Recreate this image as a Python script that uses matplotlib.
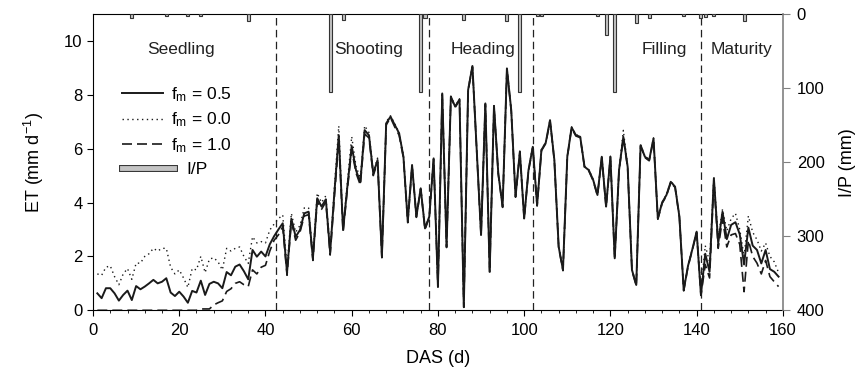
"""
ET under three f_m settings with irrigation/precipitation bars
"""

import matplotlib

matplotlib.use("Agg")
import matplotlib.pyplot as plt
import matplotlib.patheffects as pe
from matplotlib.lines import Line2D

plt.rcParams["font.family"] = ["Liberation Sans", "DejaVu Sans"]
plt.rcParams["mathtext.default"] = "regular"

# days after sowing
das = list(range(1, 160))

# ET (mm/d), f_m = 0.5
et_05 = [
    0.63, 0.45, 0.82, 0.82, 0.63, 0.36, 0.57, 0.73, 0.38, 0.90,
    0.78, 0.88, 1.00, 1.13, 1.00, 1.06, 1.19, 0.66, 0.53, 0.69,
    0.51, 0.28, 0.72, 0.66, 1.10, 0.57, 0.98, 1.06, 1.00, 0.82,
    1.42, 1.30, 1.62, 1.70, 1.45, 1.15, 2.24, 1.99, 2.18, 2.00,
    2.45, 2.75, 3.00, 3.23, 1.40, 3.40, 2.73, 2.98, 3.60, 3.66,
    1.93, 4.16, 3.85, 4.12, 2.15, 4.40, 6.50, 2.98, 4.60, 6.10,
    5.20, 4.75, 6.69, 6.50, 5.08, 5.58, 2.00, 6.94, 7.19, 6.88,
    6.57, 5.70, 3.29, 5.39, 3.48, 4.53, 3.04, 3.48, 5.64, 0.88,
    8.05, 2.36, 7.93, 7.56, 7.83, 0.12, 8.18, 9.07, 5.90, 2.80,
    7.68, 1.43, 7.58, 5.08, 3.85, 8.98, 7.43, 4.22, 5.89, 3.41,
    5.20, 6.07, 3.90, 5.95, 6.22, 7.06, 5.58, 2.36, 1.50, 5.70,
    6.79, 6.50, 6.44, 5.33, 5.20, 4.84, 4.28, 5.70, 3.85, 5.70,
    1.93, 5.20, 6.44, 5.33, 1.50, 0.94, 6.13, 5.70, 5.58, 6.38,
    3.41, 4.00, 4.28, 4.77, 4.59, 3.48, 0.75, 1.65, 2.26, 2.92,
    0.57, 2.10, 1.43, 4.90, 2.49, 3.66, 2.64, 3.17, 3.27, 2.82,
    1.70, 3.07, 2.40, 2.24, 1.74, 2.24, 1.53, 1.43, 1.25,
]

# ET (mm/d), f_m = 0.0
et_00 = [
    1.35, 1.30, 1.60, 1.65, 1.25, 0.95, 1.35, 1.55, 1.15, 1.75,
    1.75, 2.00, 2.10, 2.30, 2.20, 2.30, 2.30, 1.60, 1.35, 1.50,
    1.20, 0.85, 1.55, 1.50, 2.00, 1.40, 1.90, 1.95, 1.80, 1.50,
    2.30, 2.20, 2.30, 2.35, 2.00, 1.74, 2.73, 2.50, 2.55, 2.50,
    2.98, 3.20, 3.40, 3.54, 1.60, 3.60, 2.90, 3.15, 3.80, 3.80,
    2.05, 4.35, 4.00, 4.25, 2.25, 4.60, 6.84, 3.05, 4.75, 6.45,
    5.35, 4.90, 6.85, 6.60, 5.15, 5.65, 2.05, 7.00, 7.22, 6.92,
    6.60, 5.75, 3.32, 5.42, 3.50, 4.56, 3.06, 3.50, 5.66, 0.90,
    8.07, 2.38, 7.95, 7.58, 7.85, 0.13, 8.20, 9.09, 5.92, 2.82,
    7.70, 1.45, 7.60, 5.10, 3.87, 9.00, 7.45, 4.24, 5.91, 3.43,
    5.22, 6.09, 3.92, 5.97, 6.24, 7.08, 5.60, 2.38, 1.52, 5.72,
    6.81, 6.52, 6.46, 5.35, 5.22, 4.86, 4.30, 5.72, 3.87, 5.72,
    1.95, 5.22, 6.68, 5.35, 1.52, 0.96, 6.15, 5.72, 5.60, 6.40,
    3.43, 4.02, 4.30, 4.79, 4.61, 3.50, 0.77, 1.67, 2.28, 2.94,
    0.75, 2.40, 1.80, 4.95, 2.70, 3.75, 2.95, 3.40, 3.60, 3.00,
    2.00, 3.50, 2.90, 2.62, 2.20, 2.50, 2.00, 1.80, 1.40,
]

# ET (mm/d), f_m = 1.0
et_10 = [
    0.00, 0.00, 0.00, 0.00, 0.00, 0.00, 0.00, 0.00, 0.00, 0.00,
    0.00, 0.00, 0.00, 0.00, 0.00, 0.00, 0.00, 0.00, 0.00, 0.00,
    0.00, 0.00, 0.00, 0.00, 0.05, 0.05, 0.05, 0.20, 0.28, 0.35,
    0.70, 0.80, 1.00, 1.06, 0.95, 0.88, 1.50, 1.35, 1.60, 1.67,
    2.20, 2.60, 2.80, 3.10, 1.30, 3.30, 2.60, 2.90, 3.50, 3.55,
    1.85, 4.05, 3.75, 4.02, 2.05, 4.25, 6.30, 2.90, 4.50, 5.95,
    5.10, 4.65, 6.55, 6.40, 5.00, 5.50, 1.95, 6.88, 7.15, 6.80,
    6.50, 5.65, 3.25, 5.35, 3.45, 4.50, 3.00, 3.45, 5.60, 0.86,
    8.02, 2.33, 7.90, 7.53, 7.80, 0.11, 8.15, 9.04, 5.87, 2.77,
    7.65, 1.40, 7.55, 5.05, 3.82, 8.95, 7.40, 4.20, 5.86, 3.38,
    5.17, 6.04, 3.87, 5.92, 6.19, 7.03, 5.55, 2.33, 1.47, 5.67,
    6.76, 6.47, 6.41, 5.30, 5.17, 4.81, 4.25, 5.67, 3.82, 5.67,
    1.90, 5.17, 6.40, 5.30, 1.47, 0.91, 6.10, 5.67, 5.55, 6.35,
    3.38, 3.97, 4.25, 4.74, 4.56, 3.45, 0.72, 1.62, 2.23, 2.89,
    0.55, 1.70, 1.20, 4.80, 2.30, 3.40, 2.35, 2.80, 2.85, 2.45,
    0.69, 2.60, 2.00, 1.75, 1.35, 1.85, 1.25, 1.06, 0.88,
]

# irrigation / precipitation events (mm)
ip_day = [9, 17, 22, 25, 36, 55, 58, 76, 77, 86, 96, 99, 103, 104,
          117, 119, 121, 126, 129, 137, 141, 142, 144, 151]
ip_mm = [5, 3, 3, 3, 10, 105, 8, 105, 5, 8, 9, 105, 3, 3,
         3, 28, 105, 12, 6, 3, 6, 4, 3, 9]

# growth stages
stage_bounds = [42.5, 78, 102, 141]
stage_names = ["Seedling", "Shooting", "Heading", "Filling", "Maturity"]
stage_label_x = [20.4, 64, 90.5, 132.6, 150.4]

fig = plt.figure(figsize=(8.66, 3.82), dpi=100)
ax = fig.add_axes([0.1074, 0.1877, 0.7966, 0.7757])

ax.plot(das, et_05, color="#1a1a1a", lw=1.4, zorder=4)
ax.plot(das, et_00, color="#1a1a1a", lw=1.0, ls=(0, (1, 2.5)), zorder=3)
ax.plot(das, et_10, color="#1a1a1a", lw=1.2, ls=(0, (6, 3)), zorder=3)

for b in stage_bounds:
    ax.axvline(b, color="#222222", lw=0.9, ls=(0, (6, 3.5)), zorder=2)

for name, xc in zip(stage_names, stage_label_x):
    ax.text(xc, 9.7, name, ha="center", va="center", fontsize=12.5, color="#222222")

ax.set_xlim(0, 160)
ax.set_ylim(0, 11)
ax.set_xticks(range(0, 161, 20))
ax.set_xticks(range(0, 161, 4), minor=True)
ax.set_yticks(range(0, 11, 2))
ax.tick_params(axis="both", which="major", labelsize=12, length=4, direction="out")
ax.tick_params(axis="x", which="major", pad=5)
ax.tick_params(axis="x", which="minor", length=2.5, direction="out")
ax.set_xlabel("DAS (d)", fontsize=13, labelpad=9)
ax.set_ylabel("ET (mm d$^{-1}$)", fontsize=13, labelpad=13)
ax.spines["right"].set_visible(False)

ax2 = ax.twinx()
ax2.bar(ip_day, ip_mm, width=0.7, color="#c4c4c4", edgecolor="#333333", lw=0.8, zorder=5)
ax2.set_ylim(400, 0)
ax2.set_yticks(range(0, 401, 100))
ax2.tick_params(axis="y", labelsize=12, length=5, pad=5, color="#808080")
ax2.set_ylabel("I/P (mm)", fontsize=13, labelpad=10)
for s in ["left", "top", "bottom"]:
    ax2.spines[s].set_visible(False)
ax2.spines["right"].set_color("#808080")
ax2.spines["right"].set_linewidth(1.2)

# legend: three ET lines, then the I/P bar as its own row
line_handles = [
    Line2D([], [], color="#1a1a1a", lw=1.4),
    Line2D([], [], color="#1a1a1a", lw=1.0, ls=(0, (1, 2.5))),
    Line2D([], [], color="#1a1a1a", lw=1.2, ls=(0, (6, 3))),
]
line_labels = ["f$_m$ = 0.5", "f$_m$ = 0.0", "f$_m$ = 1.0"]
leg = ax2.legend(line_handles, line_labels, loc="upper left",
                 bbox_to_anchor=(0.019, 0.812), frameon=False, fontsize=12.5,
                 handlelength=2.4, handletextpad=0.45, labelspacing=0.38)
ax2.add_artist(leg)

bar_handle = Line2D([], [], color="#c4c4c4", lw=3.5,
                    path_effects=[pe.Stroke(linewidth=5, foreground="#333333"), pe.Normal()])
ax2.legend([bar_handle], ["I/P"], loc="center left", bbox_to_anchor=(0.019, 0.474),
           frameon=False, fontsize=12.5, handlelength=3.0, handletextpad=0.7)

fig.savefig("out.png", dpi=100)
